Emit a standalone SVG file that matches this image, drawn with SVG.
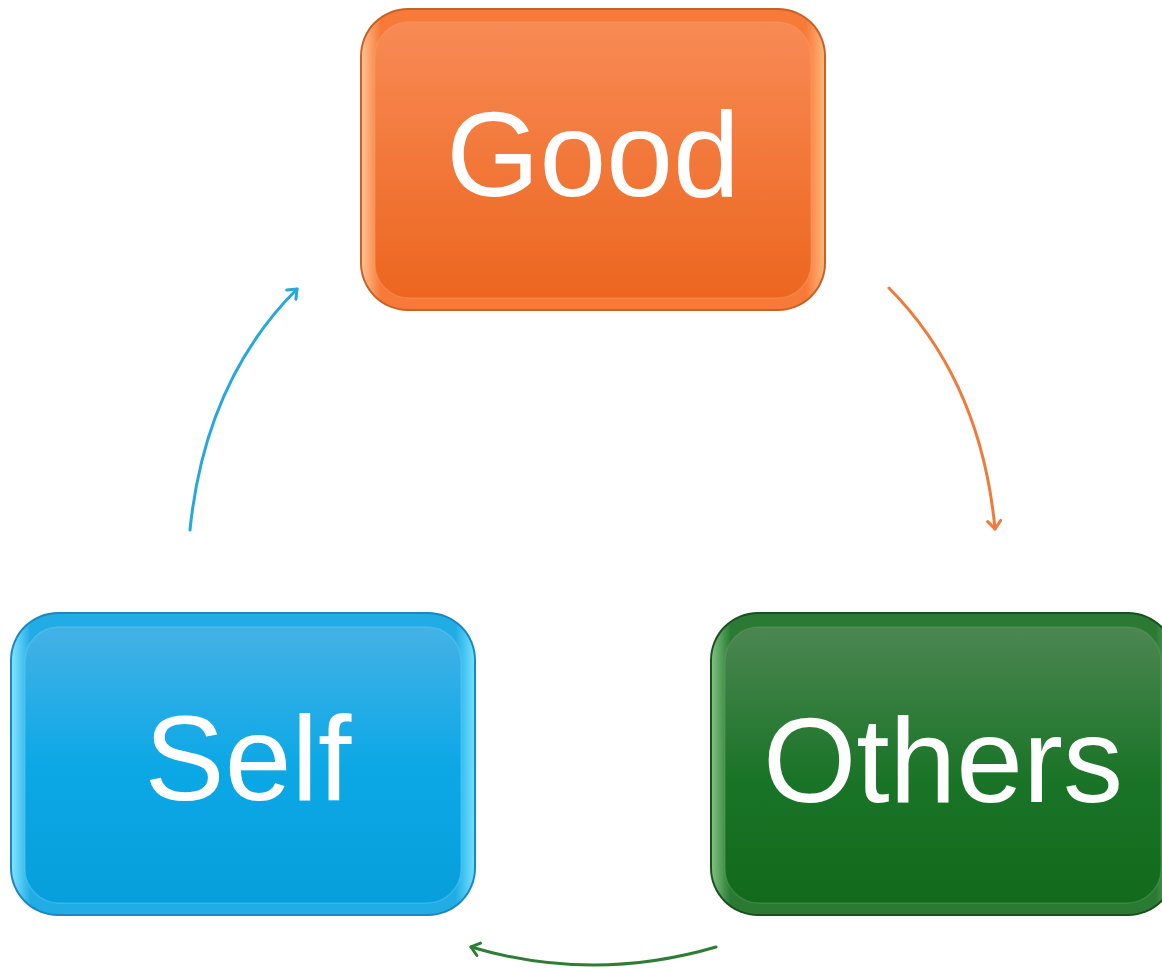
<svg xmlns="http://www.w3.org/2000/svg" width="1162" height="969" viewBox="0 0 1162 969">
<defs>
<linearGradient id="gO" x1="0" y1="0" x2="0" y2="1"><stop offset="0" stop-color="#F88A55"/><stop offset="1" stop-color="#EC661F"/></linearGradient>
<linearGradient id="gB" x1="0" y1="0" x2="0" y2="1"><stop offset="0" stop-color="#44B2E6"/><stop offset="0.5" stop-color="#0CA8E6"/><stop offset="1" stop-color="#069FDB"/></linearGradient>
<linearGradient id="gG" x1="0" y1="0" x2="0" y2="1"><stop offset="0" stop-color="#4C8652"/><stop offset="0.55" stop-color="#1A7427"/><stop offset="1" stop-color="#126A1C"/></linearGradient>
<linearGradient id="eO" x1="0" y1="0" x2="1" y2="0"><stop offset="0" stop-color="#FFC08F"/><stop offset="0.04" stop-color="#F77A38"/><stop offset="0.96" stop-color="#F77A38"/><stop offset="1" stop-color="#FFB377"/></linearGradient>
<linearGradient id="eB" x1="0" y1="0" x2="1" y2="0"><stop offset="0" stop-color="#7FE3FF"/><stop offset="0.04" stop-color="#22ACE6"/><stop offset="0.96" stop-color="#22ACE6"/><stop offset="1" stop-color="#6FE0FF"/></linearGradient>
<linearGradient id="eG" x1="0" y1="0" x2="1" y2="0"><stop offset="0" stop-color="#7CC27F"/><stop offset="0.04" stop-color="#2B7A33"/><stop offset="0.96" stop-color="#2B7A33"/><stop offset="1" stop-color="#5FA862"/></linearGradient>
<marker id="mB" markerWidth="16" markerHeight="16" refX="11" refY="8" orient="auto" markerUnits="userSpaceOnUse"><path d="M3,1.5 L11,8 L3,14.5" fill="none" stroke="#27A8DD" stroke-width="3" stroke-linecap="round" stroke-linejoin="round"/></marker>
<marker id="mO" markerWidth="16" markerHeight="16" refX="11" refY="8" orient="auto" markerUnits="userSpaceOnUse"><path d="M3,1.5 L11,8 L3,14.5" fill="none" stroke="#F07A3A" stroke-width="3" stroke-linecap="round" stroke-linejoin="round"/></marker>
<marker id="mG" markerWidth="16" markerHeight="16" refX="11" refY="8" orient="auto" markerUnits="userSpaceOnUse"><path d="M3,1.5 L11,8 L3,14.5" fill="none" stroke="#2E7D34" stroke-width="3" stroke-linecap="round" stroke-linejoin="round"/></marker>
</defs>
<style>
.lbl{font-family:"Liberation Sans",Arial,sans-serif;font-size:120px;fill:#FFFFFF;text-anchor:middle}
.conn{fill:none;stroke-width:3;stroke-linecap:round}
</style>
<rect width="1162" height="969" fill="#FFFFFF"/>
<g id="connectors">
<path class="conn" d="M190,530 Q205,381 297,289" stroke="#27A8DD" marker-end="url(#mB)"/>
<path class="conn" d="M889,288 Q981,381 995,529" stroke="#F07A3A" marker-end="url(#mO)"/>
<path class="conn" d="M716,947 Q593,983 471,947" stroke="#2E7D34" marker-end="url(#mG)"/>
</g>
<g id="node-good">
<rect x="360" y="8" width="466" height="303" rx="48" fill="#C86125"/>
<rect x="362" y="10" width="462" height="299" rx="46" fill="url(#eO)"/>
<rect x="375" y="22" width="436" height="276" rx="34" fill="url(#gO)" stroke="#FBA36F" stroke-width="1.5" stroke-opacity="0.35"/>
<text class="lbl" x="593" y="196">Good</text>
</g>
<g id="node-self">
<rect x="10" y="612" width="466" height="304" rx="48" fill="#1B87BE"/>
<rect x="12" y="614" width="462" height="300" rx="46" fill="url(#eB)"/>
<rect x="25" y="627" width="436" height="276" rx="34" fill="url(#gB)" stroke="#6CD3FA" stroke-width="1.5" stroke-opacity="0.35"/>
<text class="lbl" x="248" y="800">Self</text>
</g>
<g id="node-others">
<rect x="710" y="612" width="466" height="304" rx="48" fill="#1A4F1E"/>
<rect x="712" y="614" width="462" height="300" rx="46" fill="url(#eG)"/>
<rect x="725" y="627" width="436" height="276" rx="34" fill="url(#gG)" stroke="#6FAE72" stroke-width="1.5" stroke-opacity="0.3"/>
<text class="lbl" x="943" y="802">Others</text>
</g>
</svg>
